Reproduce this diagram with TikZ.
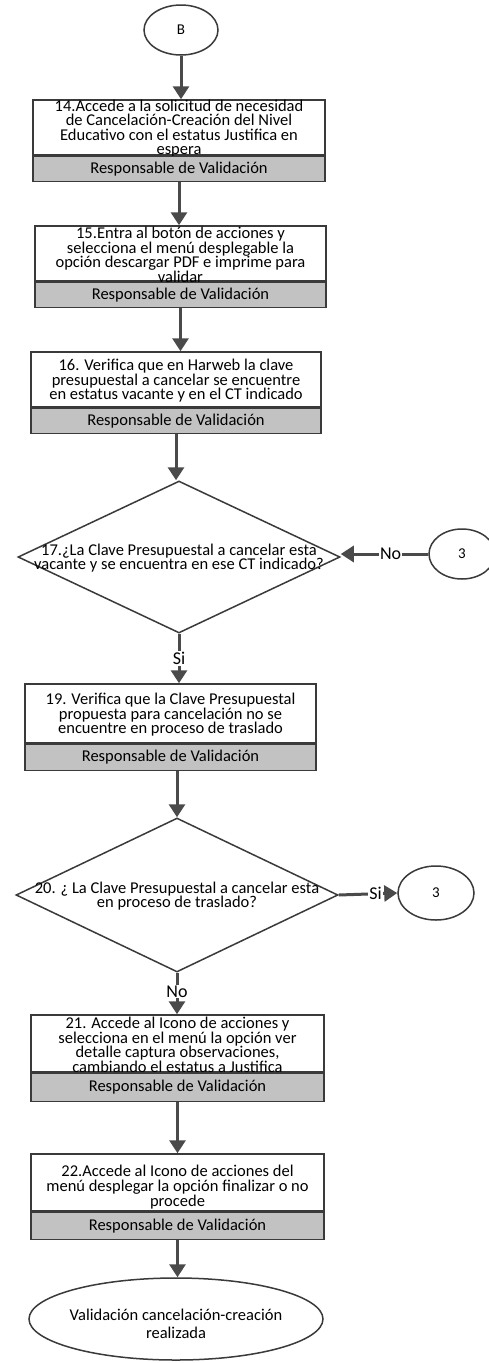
\documentclass[tikz,border=0pt]{standalone}
\usepackage{fontspec}
\setmainfont{Carlito}
\usetikzlibrary{arrows.meta,shapes.geometric}
\definecolor{ln}{HTML}{3A3A3A}
\definecolor{ar}{HTML}{4A4A4A}
\definecolor{bandgray}{HTML}{C2C2C2}
\newcommand{\tbx}[2][-5.5pt]{\makebox[0pt]{\smash{\raisebox{#1}{\parbox[c]{330pt}{\centering #2}}}}}
\begin{document}
\begin{tikzpicture}[x=1pt,y=-1pt,
  every node/.style={font=\fontsize{16.5}{14.6}\selectfont, text=black}]
\tikzset{
  stepbox/.style={draw=ln, line width=1.5pt, fill=white, rectangle, align=center, inner sep=0pt, minimum width=291pt, minimum height=55pt},
  bandbox/.style={draw=ln, line width=1.5pt, fill=bandgray, rectangle, align=center, inner sep=0pt, minimum width=291pt, minimum height=25pt, anchor=north},
  arr/.style={draw=ar, line width=3pt, -{Triangle[width=16pt,length=13pt]}},
  conn/.style={draw=ln, line width=1.5pt, ellipse, fill=white, inner sep=0pt, font=\fontsize{15}{15}\selectfont},
  dec/.style={draw=ln, line width=1.5pt, diamond, fill=white, inner sep=0pt, minimum width=322pt, minimum height=152pt},
  lbl/.style={fill=white, inner sep=1pt, font=\fontsize{18}{18}\selectfont}
}
\useasboundingbox[fill=white] (0,0) rectangle (488,1363);

\node[conn, minimum width=74pt, minimum height=50pt] (B) at (181,30) {B};

\node[stepbox, minimum width=292pt] (s14) at (179,127.5) {\tbx{14.Accede a la solicitud de necesidad\\de Cancelación-Creación del Nivel\\Educativo con el estatus Justifica en\\espera}};
\node[bandbox, minimum width=292pt] (r14) at (s14.south) {Responsable de Validación};

\node[stepbox] (s15) at (180.5,253.5) {\tbx{15.Entra al botón de acciones y\\selecciona el menú desplegable la\\opción descargar PDF e imprime para\\validar}};
\node[bandbox] (r15) at (s15.south) {Responsable de Validación};

\node[stepbox, minimum width=290pt] (s16) at (176,379.5) {\tbx{16. Verifica que en Harweb la clave\\presupuestal a cancelar se encuentre\\en estatus vacante y en el CT indicado}};
\node[bandbox, minimum width=290pt] (r16) at (s16.south) {Responsable de Validación};

\node[dec] (q17) at (179,557) {\tbx{17.¿La Clave Presupuestal a cancelar esta\\vacante y se encuentra en ese CT indicado?}};
\node[conn, minimum width=66pt, minimum height=50pt] (c3a) at (462,554) {3};

\node[stepbox, minimum height=59pt] (s19) at (170.5,713.5) {\tbx{19. Verifica que la Clave Presupuestal\\propuesta para cancelación no se\\encuentre en proceso de traslado}};
\node[bandbox, minimum height=26pt] (r19) at (s19.south) {Responsable de Validación};

\node[dec, minimum height=154pt] (q20) at (177,895) {\tbx{20. ¿ La Clave Presupuestal a cancelar esta\\en proceso de traslado?}};
\node[conn, minimum width=76pt, minimum height=54pt] (c3b) at (436,893) {3};

\node[stepbox, minimum width=293pt, minimum height=57pt] (s21) at (177.5,1043.5) {\tbx{21. Accede al Icono de acciones y\\selecciona en el menú la opción ver\\detalle captura observaciones,\\cambiando el estatus a Justifica}};
\node[bandbox, minimum width=293pt, minimum height=28pt] (r21) at (s21.south) {Responsable de Validación};

\node[stepbox, minimum width=293pt, minimum height=57pt] (s22) at (177.5,1182.5) {\tbx[-9pt]{22.Accede al Icono de acciones del\\menú desplegar la opción finalizar o no\\procede}};
\node[bandbox, minimum width=293pt, minimum height=27pt] (r22) at (s22.south) {Responsable de Validación};

\node[conn, font=\fontsize{16.5}{17.5}\selectfont, minimum width=294pt, minimum height=82pt] (fin) at (176,1319) {\tbx[-9pt]{Validación cancelación-creación\\realizada}};

\draw[arr] (B.south) -- (B.south |- s14.north);
\draw[arr] (r14.south) -- (r14.south |- s15.north);
\draw[arr] (r15.south) -- (r15.south |- s16.north);
\draw[arr] (r16.south) -- (r16.south |- q17.north);
\draw[arr] (c3a.west) -- node[lbl, pos=0.43] {No} (c3a.west -| q17.east);
\draw[arr] (q17.south) -- node[lbl] {Si} (q17.south |- s19.north);
\draw[arr] (r19.south -| q20.north) -- (q20.north);
\draw[arr] (q20.east) -- node[lbl, pos=0.63] {Si} (c3b.west);
\draw[arr] (q20.south) -- node[lbl, pos=0.45] {No} (q20.south |- s21.north);
\draw[arr] (r21.south) -- (r21.south |- s22.north);
\draw[arr] (r22.south) -- (r22.south |- fin.north);
\end{tikzpicture}
\end{document}
